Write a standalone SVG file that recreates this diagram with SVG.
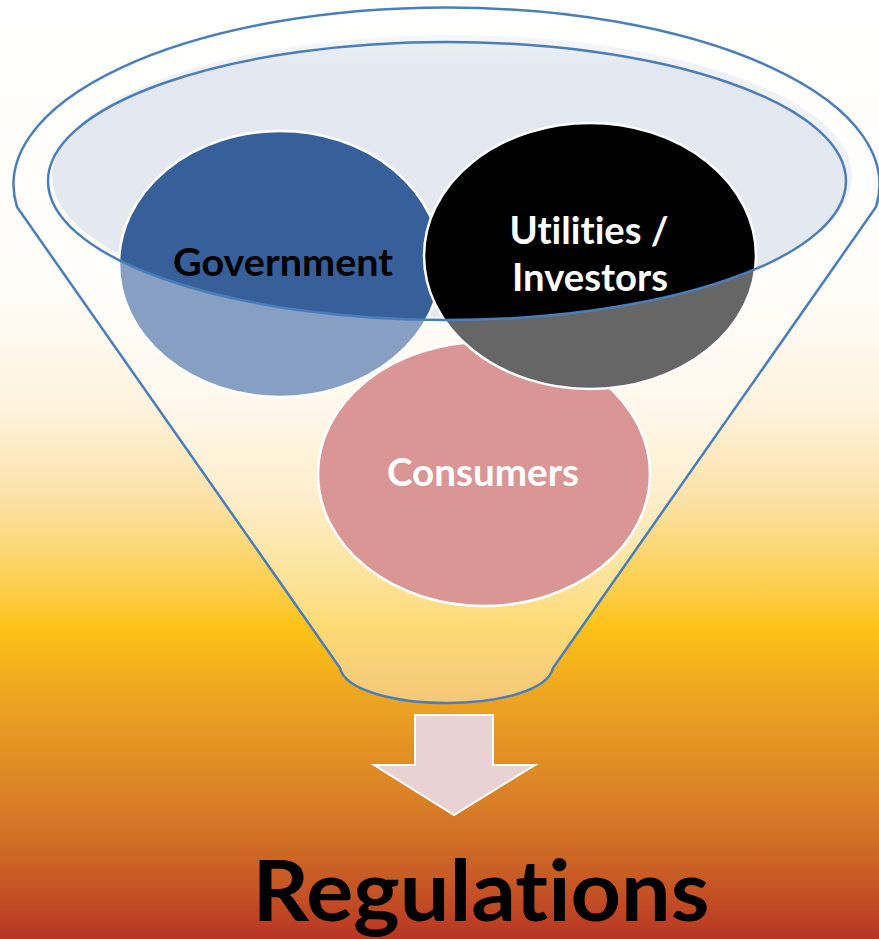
<svg xmlns="http://www.w3.org/2000/svg" width="879" height="939" viewBox="0 0 879 939">
  <defs>
    <linearGradient id="bg" x1="0" y1="0" x2="0" y2="939" gradientUnits="userSpaceOnUse">
      <stop offset="0" stop-color="#FFFFFF"/>
      <stop offset="0.30" stop-color="#FFFDF8"/>
      <stop offset="0.43" stop-color="#FEF3DF"/>
      <stop offset="0.53" stop-color="#FCE2A8"/>
      <stop offset="0.59" stop-color="#FBD66E"/>
      <stop offset="0.64" stop-color="#FCCB3D"/>
      <stop offset="0.665" stop-color="#FDC318"/>
      <stop offset="0.745" stop-color="#EDA421"/>
      <stop offset="0.85" stop-color="#DA8026"/>
      <stop offset="0.905" stop-color="#CE6A25"/>
      <stop offset="0.96" stop-color="#C24D24"/>
      <stop offset="1" stop-color="#B83424"/>
    </linearGradient>
    <linearGradient id="mouthFill" x1="0" y1="35" x2="0" y2="320" gradientUnits="userSpaceOnUse">
      <stop offset="0" stop-color="#EEF1F6"/>
      <stop offset="0.12" stop-color="#E3E8F0"/>
      <stop offset="1" stop-color="#E5E9F0"/>
    </linearGradient>
    <style>
      .rim { fill: none; stroke: #4A7EBB; stroke-width: 2.5; }
      .bubble { stroke: #FFFFFF; stroke-width: 2.5; }
      .label { font-family: Lato, "Open Sans", "Liberation Sans", sans-serif; font-weight: 700; text-anchor: middle; font-variant-ligatures: none; font-feature-settings: "liga" 0, "clig" 0; }
    </style>
  </defs>

  <!-- backdrop -->
  <rect id="background" x="0" y="0" width="879" height="939" fill="url(#bg)"/>

  <!-- funnel mouth (inside of the rim) -->
  <ellipse id="funnel-mouth" cx="452" cy="176" rx="400" ry="141" fill="url(#mouthFill)"/>

  <!-- stakeholder nodes -->
  <g id="node-government">
    <ellipse class="bubble" cx="280" cy="264" rx="161" ry="133" fill="#37609A"/>
    <text class="label" x="283" y="276" font-size="38" fill="#000000" textLength="220" lengthAdjust="spacingAndGlyphs">Government</text>
  </g>
  <g id="node-consumers">
    <ellipse class="bubble" cx="484" cy="474" rx="166" ry="132" fill="#C0504D"/>
  </g>
  <g id="node-utilities">
    <ellipse class="bubble" cx="590" cy="256" rx="166" ry="133" fill="#000000"/>
    <text class="label" x="589" y="244" font-size="38" fill="#FFFFFF" textLength="159" lengthAdjust="spacingAndGlyphs">Utilities /</text>
    <text class="label" x="590" y="291" font-size="38" fill="#FFFFFF" textLength="156" lengthAdjust="spacingAndGlyphs">Investors</text>
  </g>

  <!-- translucent funnel body over the nodes, open at the mouth -->
  <g id="funnel">
    <path fill="#FFFFFF" fill-opacity="0.4" fill-rule="evenodd"
          d="M17,207 A433,177 0 1 1 876,207 L553,668 C548,690 500,703 447,703 C394,703 345,690 340,668 Z
             M48,181 A399,139 0 1 0 846,181 A399,139 0 1 0 48,181 Z"/>
    <path class="rim" d="M17,207 A433,177 0 1 1 876,207 L553,668 C548,690 500,703 447,703 C394,703 345,690 340,668 Z"/>
    <ellipse class="rim" cx="447" cy="181" rx="399" ry="139"/>
  </g>

  <!-- label of the lower node sits above the funnel body -->
  <text class="label" x="483" y="486" font-size="39" fill="#FFFFFF" textLength="192" lengthAdjust="spacingAndGlyphs">Consumers</text>

  <!-- output arrow -->
  <g id="connectors">
    <polygon points="415,715 493,715 493,765 535,765 454,815 374,765 415,765" fill="#E8D2D3" stroke="#FFFFFF" stroke-width="2"/>
  </g>

  <g id="node-regulations">
    <text class="label" x="481" y="921" font-size="84" fill="#000000" textLength="457" lengthAdjust="spacingAndGlyphs">Regulations</text>
  </g>
</svg>
